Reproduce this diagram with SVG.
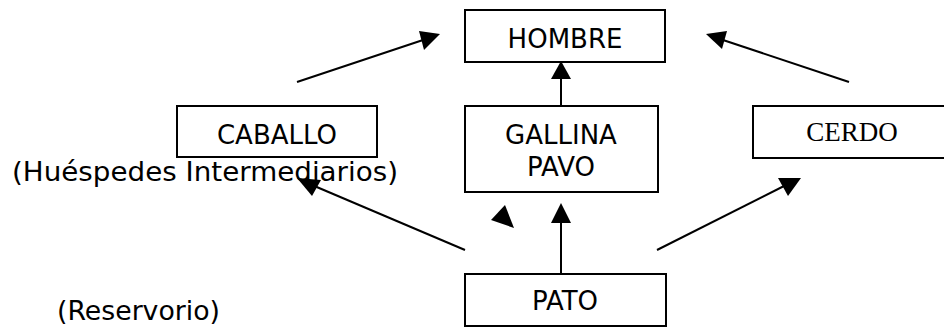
<svg xmlns="http://www.w3.org/2000/svg" width="944" height="329" viewBox="0 0 944 329">
<style>
.box{fill:#fff;stroke:#000;stroke-width:2}
.t{font-family:"DejaVu Sans",Verdana,sans-serif;font-size:26px;fill:#000;text-anchor:middle}
.tl{font-family:"DejaVu Sans",Verdana,sans-serif;font-size:26px;fill:#000}
.ts{font-family:"Liberation Serif","Times New Roman",serif;font-size:27px;fill:#000;text-anchor:middle}
.ln{stroke:#000;stroke-width:2;fill:none}
.hd{fill:#000;stroke:none}
</style>
<rect width="944" height="329" fill="#fff"/>
<g id="hombre"><rect class="box" x="465" y="10" width="200" height="52"/><text class="t" x="565" y="48">HOMBRE</text></g>
<g id="caballo"><rect class="box" x="177" y="106" width="200" height="51"/><text class="t" x="277" y="144">CABALLO</text></g>
<g id="gallina"><rect class="box" x="465" y="106" width="193" height="86"/><text class="t" x="561" y="144">GALLINA</text><text class="t" x="561" y="176">PAVO</text></g>
<g id="cerdo"><rect class="box" x="753" y="106" width="200" height="52"/><text class="ts" x="852" y="141">CERDO</text></g>
<g id="pato"><rect class="box" x="465" y="274" width="201" height="52"/><text class="t" x="565" y="310">PATO</text></g>
<g id="labels"><text class="tl" x="12" y="181" font-size="27" textLength="386" lengthAdjust="spacingAndGlyphs">(Huéspedes Intermediarios)</text><text class="tl" x="57" y="320" textLength="163" lengthAdjust="spacingAndGlyphs">(Reservorio)</text></g>
<g id="connectors">
<line class="ln" x1="297" y1="82" x2="426" y2="39"/><polygon class="hd" points="440,34 419,31 424,50"/>
<line class="ln" x1="849" y1="82" x2="720" y2="39"/><polygon class="hd" points="706,34 727,31 722,49"/>
<line class="ln" x1="561" y1="106" x2="561" y2="76"/><polygon class="hd" points="561,61 551,79 571,79"/>
<line class="ln" x1="561" y1="274" x2="561" y2="218"/><polygon class="hd" points="561,203 551,223 571,223"/>
<polygon class="hd" points="491,220 505,205 514,228"/>
<line class="ln" x1="465" y1="250" x2="312" y2="185"/><polygon class="hd" points="297,178 321,180 312,196"/>
<line class="ln" x1="657" y1="250" x2="788" y2="184"/><polygon class="hd" points="778,178 801,178 788,196"/>
</g>
</svg>
